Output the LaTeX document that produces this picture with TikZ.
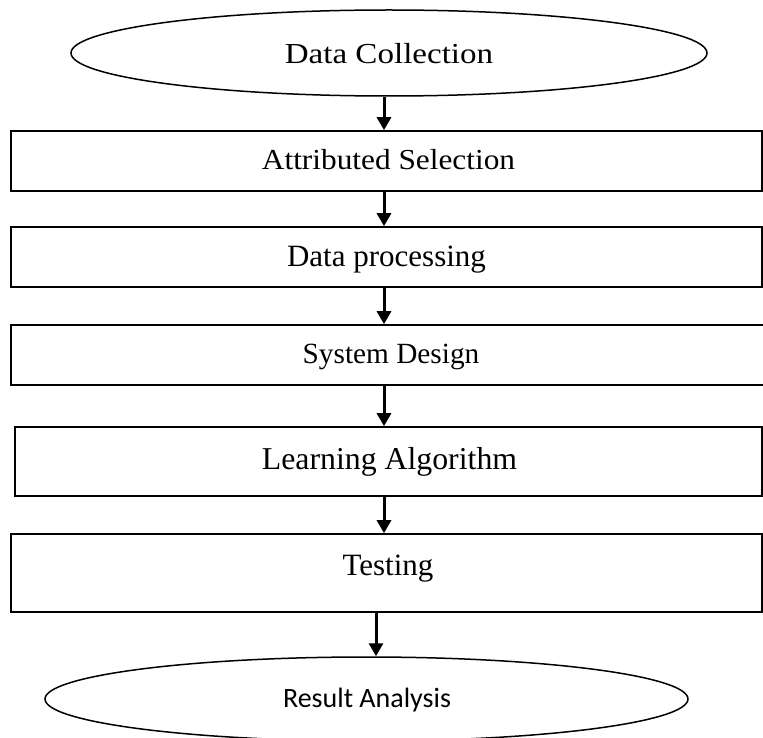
\documentclass[tikz,border=0pt]{standalone}
\usepackage{fontspec}
\usepackage{graphicx}
\setmainfont{Liberation Serif}
\newfontfamily\calibri{Carlito}
\usetikzlibrary{shapes.geometric,arrows.meta}
\begin{document}
\begin{tikzpicture}[x=1pt,y=-1pt,
  box/.style={draw, line width=1.6pt, rectangle, inner sep=0pt},
  oval/.style={draw, line width=1.5pt, ellipse, inner sep=0pt},
  lbl/.style={anchor=base, inner sep=0pt},
  arr/.style={line width=3pt, -{Triangle[width=14pt,length=13pt]}}]
\useasboundingbox (0,0) rectangle (763,738);
% shapes
\node[oval, minimum width=636pt, minimum height=86pt] (e1) at (389,53) {};
\node[box, minimum width=751pt, minimum height=60pt] (b1) at (386.5,161) {};
\node[box, minimum width=751pt, minimum height=60pt] (b2) at (386.5,257) {};
\node[box, minimum width=764pt, minimum height=60pt] (b3) at (393,355) {};
\node[box, minimum width=747pt, minimum height=69pt] (b4) at (388.5,461.5) {};
\node[box, minimum width=751pt, minimum height=78pt] (b5) at (386.5,573) {};
\node[oval, minimum width=643pt, minimum height=84pt] (e2) at (366.5,699) {};
% labels
\node[lbl] (t1) at (389,63.5) {\fontsize{29}{32}\selectfont\scalebox{1.14}[1]{Data Collection}};
\node[lbl] (t2) at (388.5,170) {\fontsize{29}{32}\selectfont\scalebox{1.08}[1]{Attributed Selection}};
\node[lbl] (t3) at (386.5,266.7) {\fontsize{31}{33}\selectfont Data processing};
\node[lbl] (t4) at (391,363) {\fontsize{29.3}{32}\selectfont System Design};
\node[lbl] (t5) at (389.5,469) {\fontsize{31.8}{34}\selectfont Learning Algorithm};
\node[lbl] (t6) at (388,575) {\fontsize{31}{33}\selectfont Testing};
\node[lbl] (t7) at (367,707.7) {\fontsize{28}{30}\calibri\selectfont Result Analysis};
% arrow columns
\coordinate (ax) at (384,0);
\coordinate (bx) at (376,0);
\draw[arr] (e1.south -| ax) -- (b1.north -| ax);
\draw[arr] (b1.south -| ax) -- (b2.north -| ax);
\draw[arr] (b2.south -| ax) -- (b3.north -| ax);
\draw[arr] (b3.south -| ax) -- (b4.north -| ax);
\draw[arr] (b4.south -| ax) -- (b5.north -| ax);
\draw[arr] (b5.south -| bx) -- (e2.north -| bx);
\end{tikzpicture}
\end{document}
